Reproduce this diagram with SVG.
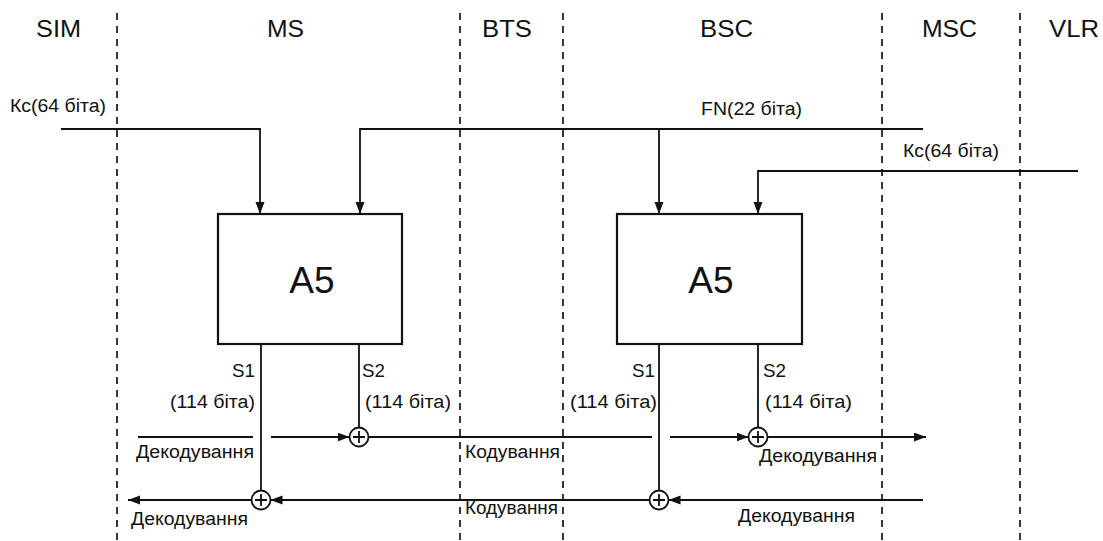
<svg xmlns="http://www.w3.org/2000/svg" width="1103" height="541" viewBox="0 0 1103 541">
<style>
text{font-family:"Liberation Sans",Arial,sans-serif;fill:#111}
.hdr{font-size:24px}
.lbl{font-size:18px}
.big{font-size:37px}
.dash{stroke:#222;stroke-width:1.8;stroke-dasharray:7 6;fill:none}
.ln{stroke:#111;stroke-width:1.8;fill:none}
.box{stroke:#111;stroke-width:2.2;fill:#fff}
.xor{stroke:#111;stroke-width:1.8;fill:#fff}
</style>
<defs>
<marker id="ah" markerUnits="userSpaceOnUse" markerWidth="13" markerHeight="10" refX="12" refY="4.5" orient="auto">
<path d="M0,0 L12,4.5 L0,9 Z" fill="#111"/>
</marker>
</defs>
<rect width="1103" height="541" fill="#fff"/>
<g id="lanes">
<line class="dash" x1="117" y1="13" x2="117" y2="541"/>
<line class="dash" x1="460" y1="13" x2="460" y2="541"/>
<line class="dash" x1="563" y1="13" x2="563" y2="541"/>
<line class="dash" x1="882" y1="13" x2="882" y2="541"/>
<line class="dash" x1="1020" y1="13" x2="1020" y2="541"/>
<text class="hdr" x="36" y="37" textLength="45" lengthAdjust="spacingAndGlyphs">SIM</text>
<text class="hdr" x="267" y="37" textLength="37" lengthAdjust="spacingAndGlyphs">MS</text>
<text class="hdr" x="482" y="37" textLength="50" lengthAdjust="spacingAndGlyphs">BTS</text>
<text class="hdr" x="700" y="37" textLength="53" lengthAdjust="spacingAndGlyphs">BSC</text>
<text class="hdr" x="922" y="37" textLength="55" lengthAdjust="spacingAndGlyphs">MSC</text>
<text class="hdr" x="1049" y="37" textLength="50" lengthAdjust="spacingAndGlyphs">VLR</text>
</g>
<g id="connectors">
<path class="ln" d="M61,129 H260 V214" marker-end="url(#ah)"/>
<path class="ln" d="M923,129 H360 V214" marker-end="url(#ah)"/>
<path class="ln" d="M659,129 V214" marker-end="url(#ah)"/>
<path class="ln" d="M1078,171 H758 V214" marker-end="url(#ah)"/>
<path class="ln" d="M261,344 V490.5"/>
<path class="ln" d="M359,344 V427.5"/>
<path class="ln" d="M659,344 V490.5"/>
<path class="ln" d="M758,344 V427.5"/>
<path class="ln" d="M138,437 H253"/>
<path class="ln" d="M271,437 H349.5" marker-end="url(#ah)"/>
<path class="ln" d="M368.5,437 H652"/>
<path class="ln" d="M670,437 H748.5" marker-end="url(#ah)"/>
<path class="ln" d="M767.5,437 H926" marker-end="url(#ah)"/>
<path class="ln" d="M923,500 H668.5" marker-end="url(#ah)"/>
<path class="ln" d="M649.5,500 H270.5" marker-end="url(#ah)"/>
<path class="ln" d="M251.5,500 H128" marker-end="url(#ah)"/>
</g>
<g id="a5-ms">
<rect class="box" x="218" y="214" width="184" height="130"/>
<text class="big" x="312" y="293" text-anchor="middle">A5</text>
</g>
<g id="a5-bsc">
<rect class="box" x="617" y="214" width="185" height="130"/>
<text class="big" x="711" y="293" text-anchor="middle">A5</text>
</g>
<g id="xor-ms-enc">
<circle class="xor" cx="359" cy="437" r="9.5"/>
<path class="ln" d="M353,437 H365 M359,431 V443"/>
</g>
<g id="xor-bsc-dec">
<circle class="xor" cx="758" cy="437" r="9.5"/>
<path class="ln" d="M752,437 H764 M758,431 V443"/>
</g>
<g id="xor-ms-dec">
<circle class="xor" cx="261" cy="500" r="9.5"/>
<path class="ln" d="M255,500 H267 M261,494 V506"/>
</g>
<g id="xor-bsc-enc">
<circle class="xor" cx="659" cy="500" r="9.5"/>
<path class="ln" d="M653,500 H665 M659,494 V506"/>
</g>
<g id="labels">
<text class="lbl" x="10" y="112" textLength="96" lengthAdjust="spacingAndGlyphs">Кс(64 біта)</text>
<text class="lbl" x="701" y="115" textLength="101" lengthAdjust="spacingAndGlyphs">FN(22 біта)</text>
<text class="lbl" x="903" y="157" textLength="96" lengthAdjust="spacingAndGlyphs">Кс(64 біта)</text>
<text class="lbl" x="232" y="377" textLength="23" lengthAdjust="spacingAndGlyphs">S1</text>
<text class="lbl" x="170" y="408" textLength="85" lengthAdjust="spacingAndGlyphs">(114 біта)</text>
<text class="lbl" x="362" y="377" textLength="23" lengthAdjust="spacingAndGlyphs">S2</text>
<text class="lbl" x="365" y="408" textLength="86" lengthAdjust="spacingAndGlyphs">(114 біта)</text>
<text class="lbl" x="632" y="377" textLength="23" lengthAdjust="spacingAndGlyphs">S1</text>
<text class="lbl" x="570" y="408" textLength="87" lengthAdjust="spacingAndGlyphs">(114 біта)</text>
<text class="lbl" x="763" y="377" textLength="23" lengthAdjust="spacingAndGlyphs">S2</text>
<text class="lbl" x="765" y="408" textLength="87" lengthAdjust="spacingAndGlyphs">(114 біта)</text>
<text class="lbl" x="136" y="458" textLength="118" lengthAdjust="spacingAndGlyphs">Декодування</text>
<text class="lbl" x="465" y="458" textLength="95" lengthAdjust="spacingAndGlyphs">Кодування</text>
<text class="lbl" x="759" y="462" textLength="118" lengthAdjust="spacingAndGlyphs">Декодування</text>
<text class="lbl" x="131" y="525" textLength="117" lengthAdjust="spacingAndGlyphs">Декодування</text>
<text class="lbl" x="465" y="514" textLength="93" lengthAdjust="spacingAndGlyphs">Кодування</text>
<text class="lbl" x="738" y="522" textLength="117" lengthAdjust="spacingAndGlyphs">Декодування</text>
</g>
</svg>
